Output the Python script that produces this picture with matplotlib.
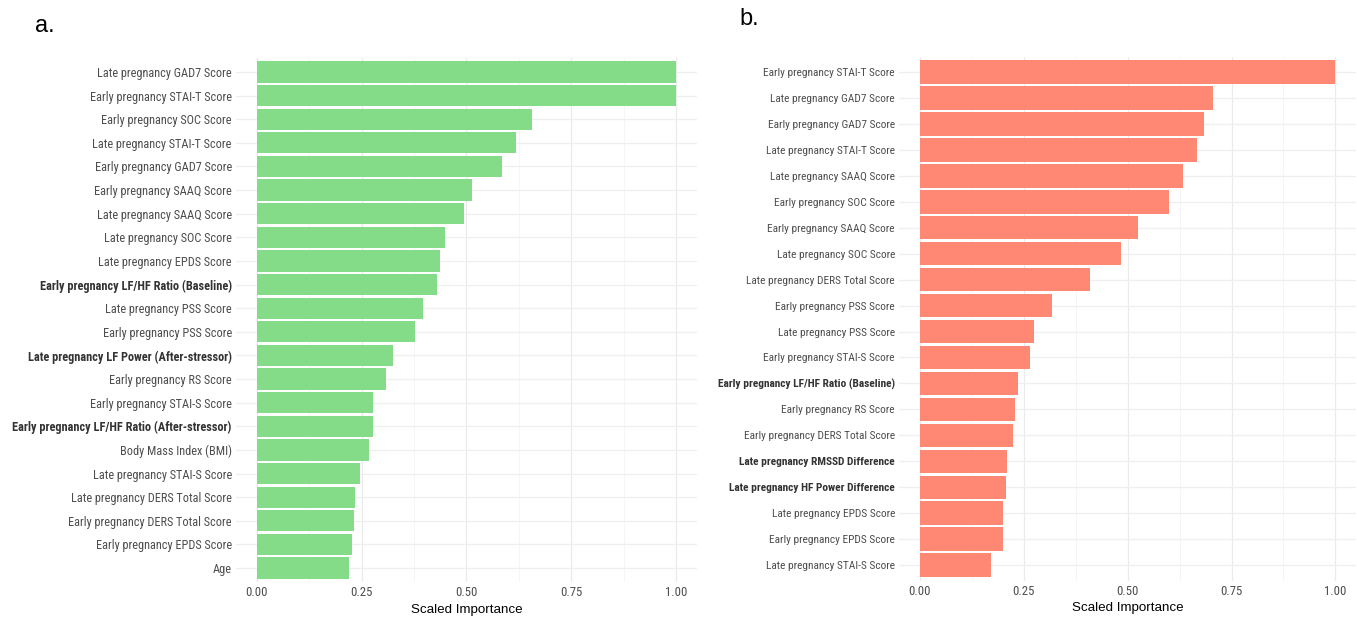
import matplotlib.pyplot as plt
import numpy as np
from matplotlib import font_manager

# feature importances, top to bottom
features_a = [
    'Late pregnancy GAD7 Score', 'Early pregnancy STAI-T Score', 'Early pregnancy SOC Score',
    'Late pregnancy STAI-T Score', 'Early pregnancy GAD7 Score', 'Early pregnancy SAAQ Score',
    'Late pregnancy SAAQ Score', 'Late pregnancy SOC Score', 'Late pregnancy EPDS Score',
    'Early pregnancy LF/HF Ratio (Baseline)', 'Late pregnancy PSS Score', 'Early pregnancy PSS Score',
    'Late pregnancy LF Power (After-stressor)', 'Early pregnancy RS Score', 'Early pregnancy STAI-S Score',
    'Early pregnancy LF/HF Ratio (After-stressor)', 'Body Mass Index (BMI)', 'Late pregnancy STAI-S Score',
    'Late pregnancy DERS Total Score', 'Early pregnancy DERS Total Score', 'Early pregnancy EPDS Score',
    'Age',
]
importance_a = [1.00, 1.00, 0.657, 0.618, 0.585, 0.513, 0.495, 0.448, 0.438, 0.429, 0.397,
                0.377, 0.325, 0.309, 0.277, 0.276, 0.268, 0.246, 0.235, 0.231, 0.228, 0.219]
bold_a = ['Early pregnancy LF/HF Ratio (Baseline)', 'Late pregnancy LF Power (After-stressor)',
          'Early pregnancy LF/HF Ratio (After-stressor)']

features_b = [
    'Early pregnancy STAI-T Score', 'Late pregnancy GAD7 Score', 'Early pregnancy GAD7 Score',
    'Late pregnancy STAI-T Score', 'Late pregnancy SAAQ Score', 'Early pregnancy SOC Score',
    'Early pregnancy SAAQ Score', 'Late pregnancy SOC Score', 'Late pregnancy DERS Total Score',
    'Early pregnancy PSS Score', 'Late pregnancy PSS Score', 'Early pregnancy STAI-S Score',
    'Early pregnancy LF/HF Ratio (Baseline)', 'Early pregnancy RS Score', 'Early pregnancy DERS Total Score',
    'Late pregnancy RMSSD Difference', 'Late pregnancy HF Power Difference', 'Late pregnancy EPDS Score',
    'Early pregnancy EPDS Score', 'Late pregnancy STAI-S Score',
]
importance_b = [1.00, 0.706, 0.684, 0.667, 0.633, 0.599, 0.526, 0.484, 0.410, 0.318,
                0.274, 0.264, 0.235, 0.229, 0.224, 0.209, 0.206, 0.201, 0.200, 0.171]
bold_b = ['Early pregnancy LF/HF Ratio (Baseline)', 'Late pregnancy RMSSD Difference',
          'Late pregnancy HF Power Difference']

xticks = [0.0, 0.25, 0.5, 0.75, 1.0]

# the original uses a condensed face; use one if present, otherwise shrink Roboto
names = {f.name for f in font_manager.fontManager.ttflist}
label_font, scale = 'Roboto', 0.85
for cand in ['Roboto Condensed', 'Liberation Sans Narrow', 'Arial Narrow']:
    if cand in names:
        label_font, scale = cand, 1.0
        break


def importance_panel(ax, features, values, bold, color, size):
    y = np.arange(len(features))
    ax.barh(y, values, height=0.9, color=color, zorder=2)
    ax.set_ylim(len(features) - 0.4, -0.6)
    ax.set_xlim(-0.05, 1.05)
    ax.set_xticks(xticks)
    ax.set_xticklabels([f'{t:.2f}' for t in xticks], fontsize=9.2 * scale,
                       color='#4D4D4D', family=label_font)
    ax.set_xticks(np.arange(0.125, 1.0, 0.25), minor=True)
    ax.set_yticks(y)
    ax.set_yticklabels(features, fontsize=size * scale, family=label_font)
    for lab in ax.get_yticklabels():
        if lab.get_text() in bold:
            lab.set_fontweight('bold')
            lab.set_color('#333333')
        else:
            lab.set_color('#4D4D4D')
    ax.tick_params(axis='both', which='both', length=0, pad=3)
    ax.grid(axis='x', which='major', color='#EBEBEB', linewidth=0.9, zorder=0)
    ax.grid(axis='x', which='minor', color='#F4F4F4', linewidth=0.6, zorder=0)
    ax.grid(axis='y', which='major', color='#EFEFEF', linewidth=0.9, zorder=0)
    for s in ax.spines.values():
        s.set_visible(False)
    ax.set_xlabel('Scaled Importance', fontsize=9.6, labelpad=3, family='Liberation Sans')


fig = plt.figure(figsize=(13.57, 6.18), dpi=100)
fig.patch.set_facecolor('white')

ax1 = fig.add_axes([0.1739, 0.0579, 0.3397, 0.8486])
importance_panel(ax1, features_a, importance_a, bold_a, '#84DC89', 8.8)

ax2 = fig.add_axes([0.6626, 0.0605, 0.3368, 0.848])
importance_panel(ax2, features_b, importance_b, bold_b, '#FE8874', 8.2)

fig.text(0.026, 0.958, 'a.', fontsize=17, family='Liberation Sans', va='center')
fig.text(0.545, 0.970, 'b.', fontsize=17, family='Liberation Sans', va='center')

plt.savefig('out.png', dpi=100)
